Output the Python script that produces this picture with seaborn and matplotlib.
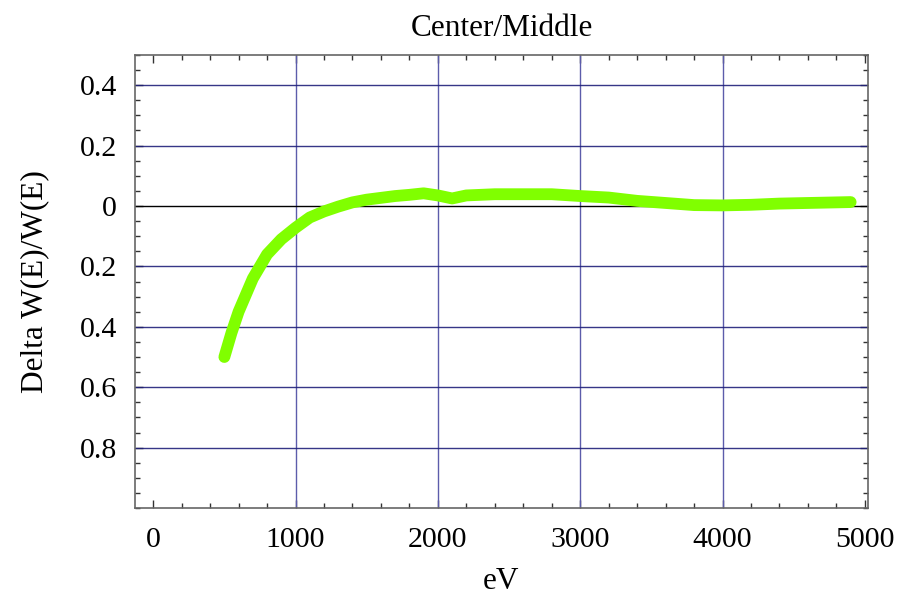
import matplotlib
matplotlib.use("Agg")
import matplotlib.pyplot as plt
from matplotlib.ticker import FixedLocator, FixedFormatter, MultipleLocator
import seaborn as sns
import pandas as pd

# Relative width change versus energy, centre/middle position
energy_ev = [500, 550, 600, 700, 800, 900, 1000, 1100, 1200, 1300, 1400, 1500,
             1600, 1700, 1800, 1900, 2000, 2100, 2200, 2400, 2600, 2800, 3000,
             3200, 3400, 3600, 3800, 4000, 4200, 4400, 4600, 4900]
delta_w = [-0.50, -0.42, -0.35, -0.24, -0.16, -0.11, -0.072, -0.038, -0.018,
           -0.002, 0.012, 0.021, 0.027, 0.033, 0.037, 0.042, 0.035, 0.025,
           0.035, 0.039, 0.039, 0.039, 0.033, 0.028, 0.017, 0.010, 0.003,
           0.002, 0.004, 0.008, 0.010, 0.013]

x_ticks = [0, 1000, 2000, 3000, 4000, 5000]
x_tick_labels = ["0", "1000", "2000", "3000", "4000", "5000"]
y_ticks = [0.4, 0.2, 0.0, -0.2, -0.4, -0.6, -0.8]
y_tick_labels = ["0.4", "0.2", "0", "0.2", "0.4", "0.6", "0.8"]
x_grid = [1000, 2000, 3000, 4000]

df = pd.DataFrame({"eV": energy_ev, "dW": delta_w})

sns.set_style("ticks")
plt.rcParams["font.family"] = ["Liberation Serif", "DejaVu Serif"]
plt.rcParams["text.color"] = "black"
plt.rcParams["axes.labelcolor"] = "black"

fig = plt.figure(figsize=(9.04, 6.01), dpi=100)
ax = fig.add_axes([0.1493, 0.1547, 0.9602 - 0.1493, 0.9085 - 0.1547])

grid_col = "#20207a"
for gx in x_grid:
    ax.axvline(gx, color="#5c5cab", lw=1.0, zorder=1)
for gy in y_ticks:
    if gy == 0.0:
        ax.axhline(gy, color="black", lw=1.0, zorder=1)
    else:
        ax.axhline(gy, color=grid_col, lw=1.0, alpha=0.9, zorder=1)

sns.lineplot(data=df, x="eV", y="dW", ax=ax, color="#80ff00", lw=8.5,
             solid_capstyle="round", solid_joinstyle="round", zorder=3)

ax.set_xlim(-128, 5022)
ax.set_ylim(-1.0, 0.5)

ax.xaxis.set_major_locator(FixedLocator(x_ticks))
ax.xaxis.set_major_formatter(FixedFormatter(x_tick_labels))
ax.xaxis.set_minor_locator(MultipleLocator(200))
ax.yaxis.set_major_locator(FixedLocator(y_ticks))
ax.yaxis.set_major_formatter(FixedFormatter(y_tick_labels))
ax.yaxis.set_minor_locator(MultipleLocator(0.05))

ax.tick_params(which="both", direction="in", top=True, right=True,
               color="#333333", labelcolor="black", labelsize=21.5, width=1.0)
ax.tick_params(which="major", length=6)
ax.tick_params(axis="x", which="major", pad=14)
ax.tick_params(axis="y", which="major", pad=13)
ax.tick_params(which="minor", length=3.5)
for s in ax.spines.values():
    s.set_color("#666666")
    s.set_linewidth(1.2)

ax.set_xlabel("eV", fontsize=22.5, labelpad=10, color="black")
ax.set_ylabel("Delta W(E)/W(E)", fontsize=22.5, labelpad=22, color="black")
ax.set_title("Center/Middle", fontsize=22.5, pad=14, color="black")

fig.savefig("out.png", dpi=100)
